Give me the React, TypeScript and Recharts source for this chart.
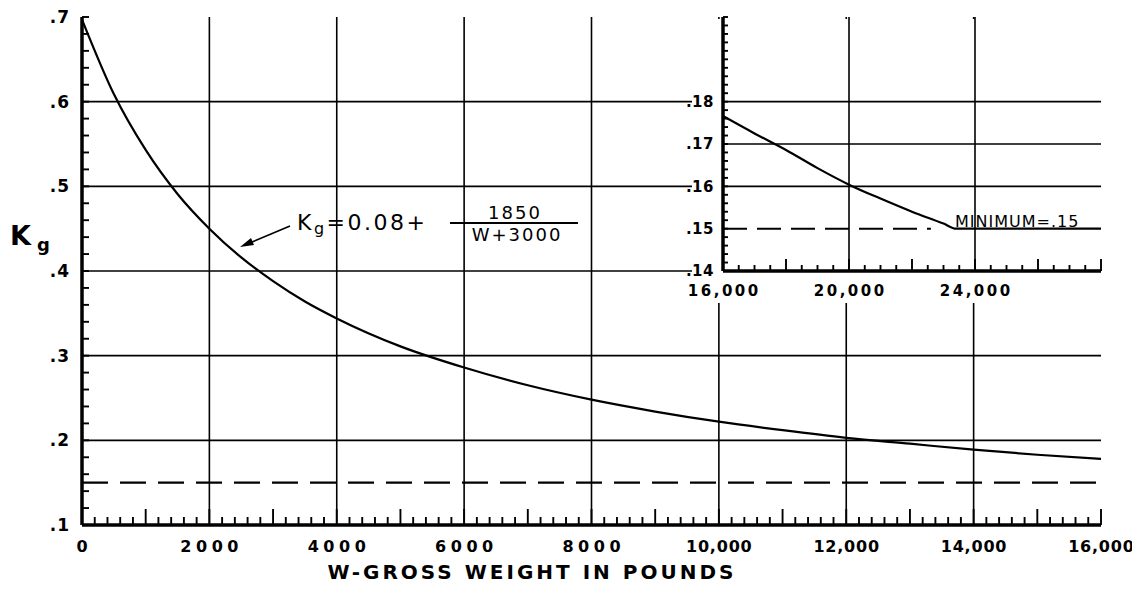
import * as React from "react";
import { LineChart, Line, XAxis, YAxis, ReferenceLine } from "recharts";

// main curve: Kg (lb)
const mainWeights = [0, 500, 1000, 1500, 2000, 2500, 3000, 3500, 4000, 5000, 6000, 7000, 8000, 9000, 10000, 11000, 12000, 13000, 14000, 15000, 16000];
const mainKg = [0.697, 0.609, 0.543, 0.491, 0.45, 0.416, 0.388, 0.364, 0.344, 0.311, 0.286, 0.265, 0.248, 0.234, 0.222, 0.212, 0.203, 0.196, 0.189, 0.183, 0.178];

// inset: continuation above 16,000 lb down to the minimum
const insetWeights = [16000, 17000, 18000, 19000, 20000, 21000, 22000, 23000, 23400, 28000];
const insetKg = [0.1766, 0.1725, 0.1686, 0.1643, 0.1604, 0.1571, 0.154, 0.1512, 0.15, 0.15];

const mainXLabels = [0, 2000, 4000, 6000, 8000, 10000, 12000, 14000, 16000];
const mainYLabels = [0.1, 0.2, 0.3, 0.4, 0.5, 0.6, 0.7];
const mainGridX = [2000, 4000, 6000, 8000, 10000, 12000, 14000];
const mainGridY = [0.2, 0.3, 0.4, 0.5, 0.6];
const insetXLabels = [16000, 20000, 24000];
const insetYLabels = [0.14, 0.15, 0.16, 0.17, 0.18];
const insetGridX = [20000, 24000];
const insetGridY = [0.16, 0.17, 0.18];
const minimumKg = 0.15;
const insetDashEnd = 22600;

const FONT = "'DejaVu Sans', sans-serif";

const steps = (from: number, to: number, step: number) => {
  const out: number[] = [];
  for (let i = 0; from + i * step <= to + step / 1000; i++) {
    out.push(Math.round((from + i * step) * 100000) / 100000);
  }
  return out;
};

const near = (a: number, b: number) => Math.abs(a - b) < 1e-6;

type TickOpts = {
  side: "bottom" | "top" | "left" | "right";
  minorLen: number;
  midLen?: number;
  isMid?: (v: number) => boolean;
  label?: (v: number) => string | null;
  fontSize?: number;
  ls?: (t: string) => number;
  offset?: number;
};

function makeTick(o: TickOpts) {
  return (props: any) => {
    const { x, y, payload } = props;
    const v = payload.value as number;
    const len = o.isMid && o.isMid(v) ? o.midLen || o.minorLen : o.minorLen;
    let line;
    if (o.side === "bottom") line = <line x1={x} x2={x} y1={y} y2={y - len} />;
    else if (o.side === "top") line = <line x1={x} x2={x} y1={y} y2={y + len} />;
    else if (o.side === "left") line = <line x1={x} x2={x + len} y1={y} y2={y} />;
    else line = <line x1={x} x2={x - len} y1={y} y2={y} />;
    const txt = o.label ? o.label(v) : null;
    let label = null;
    if (txt) {
      const ls = o.ls ? o.ls(txt) : 0;
      if (o.side === "bottom") {
        label = (
          <text x={x + ls / 2} y={y + (o.offset || 0)} textAnchor="middle" fontSize={o.fontSize} fontWeight="bold"
            letterSpacing={ls} fontFamily={FONT} fill="#000" stroke="none">{txt}</text>
        );
      } else {
        label = (
          <text x={x - (o.offset || 0)} y={y + (o.fontSize || 16) * 0.36} textAnchor="end" fontSize={o.fontSize} fontWeight="bold"
            letterSpacing={ls} fontFamily={FONT} fill="#000" stroke="none">{txt}</text>
        );
      }
    }
    return (
      <g stroke="#000" strokeWidth={1.9}>
        {line}
        {label}
      </g>
    );
  };
}

const fmtWeight = (v: number) => (v >= 10000 ? v.toLocaleString("en-US") : String(v));

const mainData = mainWeights.map((w, i) => ({ w, kg: mainKg[i] }));
const insetData = insetWeights.map((w, i) => ({ w, kg: insetKg[i] }));

const mainXTicks = steps(0, 16000, 200);
const mainYTicks = steps(0.1, 0.7, 0.02);
const insetXTicks = steps(16000, 28000, 500);
const insetYTicks = steps(0.14, 0.2, 0.002);

const border = { stroke: "#000", strokeWidth: 3.5 };

export default function App() {
  return (
    <div style={{ position: "relative", width: 1124, height: 573 }}>
      <style>{`.recharts-surface{overflow:visible}`}</style>
      <LineChart width={1124} height={573} data={mainData} margin={{ top: 9, right: 31, bottom: 0, left: 0 }}>
        <XAxis dataKey="w" type="number" domain={[0, 16000]} allowDataOverflow ticks={mainXTicks} interval={0}
          height={56} tickSize={0} tickMargin={0} tickLine={false} axisLine={border}
          tick={makeTick({
            side: "bottom", minorLen: 8, midLen: 16, isMid: (v) => v % 1000 === 0,
            label: (v) => (mainXLabels.includes(v) ? fmtWeight(v) : null), fontSize: 16,
            ls: (t) => (t.length > 4 ? 0.8 : 4.5), offset: 27,
          })} />
        <XAxis xAxisId="top" orientation="top" dataKey="w" type="number" domain={[0, 16000]} allowDataOverflow
          ticks={mainXTicks} interval={0} height={0} tickSize={0} tickMargin={0} tickLine={false} axisLine={border}
          tick={makeTick({ side: "top", minorLen: 9, midLen: 18, isMid: (v) => v % 1000 === 0 })} />
        <YAxis type="number" domain={[0.1, 0.7]} allowDataOverflow ticks={mainYTicks} interval={0} width={74}
          tickSize={0} tickMargin={0} tickLine={false} axisLine={border}
          tick={makeTick({
            side: "left", minorLen: 7,
            label: (v) => (mainYLabels.some((l) => near(l, v)) ? v.toFixed(1).replace(/^0/, "") : null),
            fontSize: 17, ls: () => 1, offset: 12,
          })} />
        <YAxis yAxisId="right" orientation="right" type="number" domain={[0.1, 0.7]} allowDataOverflow ticks={mainYTicks}
          interval={0} width={0} tickSize={0} tickMargin={0} tickLine={false} axisLine={border}
          tick={makeTick({ side: "right", minorLen: 7 })} />
        {mainGridX.map((x) => (
          <ReferenceLine key={"gx" + x} x={x} stroke="#000" strokeWidth={1.6} />
        ))}
        {mainGridY.map((y) => (
          <ReferenceLine key={"gy" + y} y={y} stroke="#000" strokeWidth={1.6} />
        ))}
        <ReferenceLine y={minimumKg} stroke="#000" strokeWidth={2.2} strokeDasharray="26 12" />
        <Line dataKey="kg" type="monotone" stroke="#000" strokeWidth={2.2} dot={false} isAnimationActive={false} />
      </LineChart>

      <div style={{
        position: "absolute", left: 684, top: 5, width: 411, height: 290,
        background: "linear-gradient(to bottom, transparent 6px, #fff 6px)",
      }}>
        <LineChart width={411} height={290} data={insetData} margin={{ top: 4, right: 2, bottom: 0, left: 0 }}>
          <XAxis dataKey="w" type="number" domain={[16000, 28000]} allowDataOverflow ticks={insetXTicks} interval={0}
            height={32} tickSize={0} tickMargin={0} tickLine={false} axisLine={border}
            tick={makeTick({
              side: "bottom", minorLen: 6, midLen: 12, isMid: (v) => v % 2000 === 0,
              label: (v) => (insetXLabels.includes(v) ? fmtWeight(v) : null), fontSize: 15,
              ls: () => 2.5, offset: 25,
            })} />
          <XAxis xAxisId="top" orientation="top" dataKey="w" type="number" domain={[16000, 28000]} allowDataOverflow
            ticks={insetXTicks} interval={0} height={0} tickSize={0} tickMargin={0} tickLine={false} axisLine={border}
            tick={makeTick({ side: "top", minorLen: 6, midLen: 12, isMid: (v) => v % 2000 === 0 })} />
          <YAxis type="number" domain={[0.14, 0.2]} allowDataOverflow ticks={insetYTicks} interval={0} width={31}
            tickSize={0} tickMargin={0} tickLine={false} axisLine={border}
            tick={makeTick({
              side: "left", minorLen: 5,
              label: (v) => (insetYLabels.some((l) => near(l, v)) ? v.toFixed(2).replace(/^0/, "") : null),
              fontSize: 15, ls: () => 0.5, offset: 9,
            })} />
          <YAxis yAxisId="right" orientation="right" type="number" domain={[0.14, 0.2]} allowDataOverflow
            ticks={insetYTicks} interval={0} width={0} tickSize={0} tickMargin={0} tickLine={false} axisLine={border}
            tick={makeTick({ side: "right", minorLen: 5 })} />
          {insetGridX.map((x) => (
            <ReferenceLine key={"ix" + x} x={x} stroke="#000" strokeWidth={1.6} />
          ))}
          {insetGridY.map((y) => (
            <ReferenceLine key={"iy" + y} y={y} stroke="#000" strokeWidth={1.6} />
          ))}
          <ReferenceLine segment={[{ x: 16000, y: minimumKg }, { x: insetDashEnd, y: minimumKg }]}
            stroke="#000" strokeWidth={2} strokeDasharray="24 10" />
          <Line dataKey="kg" type="monotone" stroke="#000" strokeWidth={2.2} dot={false} isAnimationActive={false} />
        </LineChart>
      </div>

      <svg width={1124} height={581} style={{ position: "absolute", left: 0, top: 0, pointerEvents: "none", overflow: "visible" }}>
        <g fontFamily={FONT} fill="#000">
          {/* y axis name */}
          <text x={2} y={237} fontSize={27} fontWeight="bold">K</text>
          <text x={29} y={243} fontSize={18} fontWeight="bold">g</text>

          {/* x axis name */}
          <text x={524} y={571} textAnchor="middle" fontSize={20} fontWeight="bold" letterSpacing={3}>
            W-GROSS WEIGHT IN POUNDS
          </text>

          {/* formula */}
          <text x={289} y={222} fontSize={22} letterSpacing={2.5}>
            <tspan>K</tspan>
            <tspan fontSize={16} dy={4}>g</tspan>
            <tspan dy={-4}>=0.08+</tspan>
          </text>
          <text x={507} y={211} textAnchor="middle" fontSize={18} letterSpacing={2}>1850</text>
          <line x1={442} x2={570} y1={215} y2={215} stroke="#000" strokeWidth={1.8} />
          <text x={509} y={233} textAnchor="middle" fontSize={18} letterSpacing={2}>W+3000</text>
          <line x1={282} y1={218} x2={238} y2={236.5} stroke="#000" strokeWidth={1.6} />
          <polygon points="232,239 243,230 246,237" fill="#000" />

          {/* inset note */}
          <text x={947} y={219} fontSize={16} letterSpacing={1}>MINIMUM=.15</text>
        </g>
      </svg>
    </div>
  );
}
